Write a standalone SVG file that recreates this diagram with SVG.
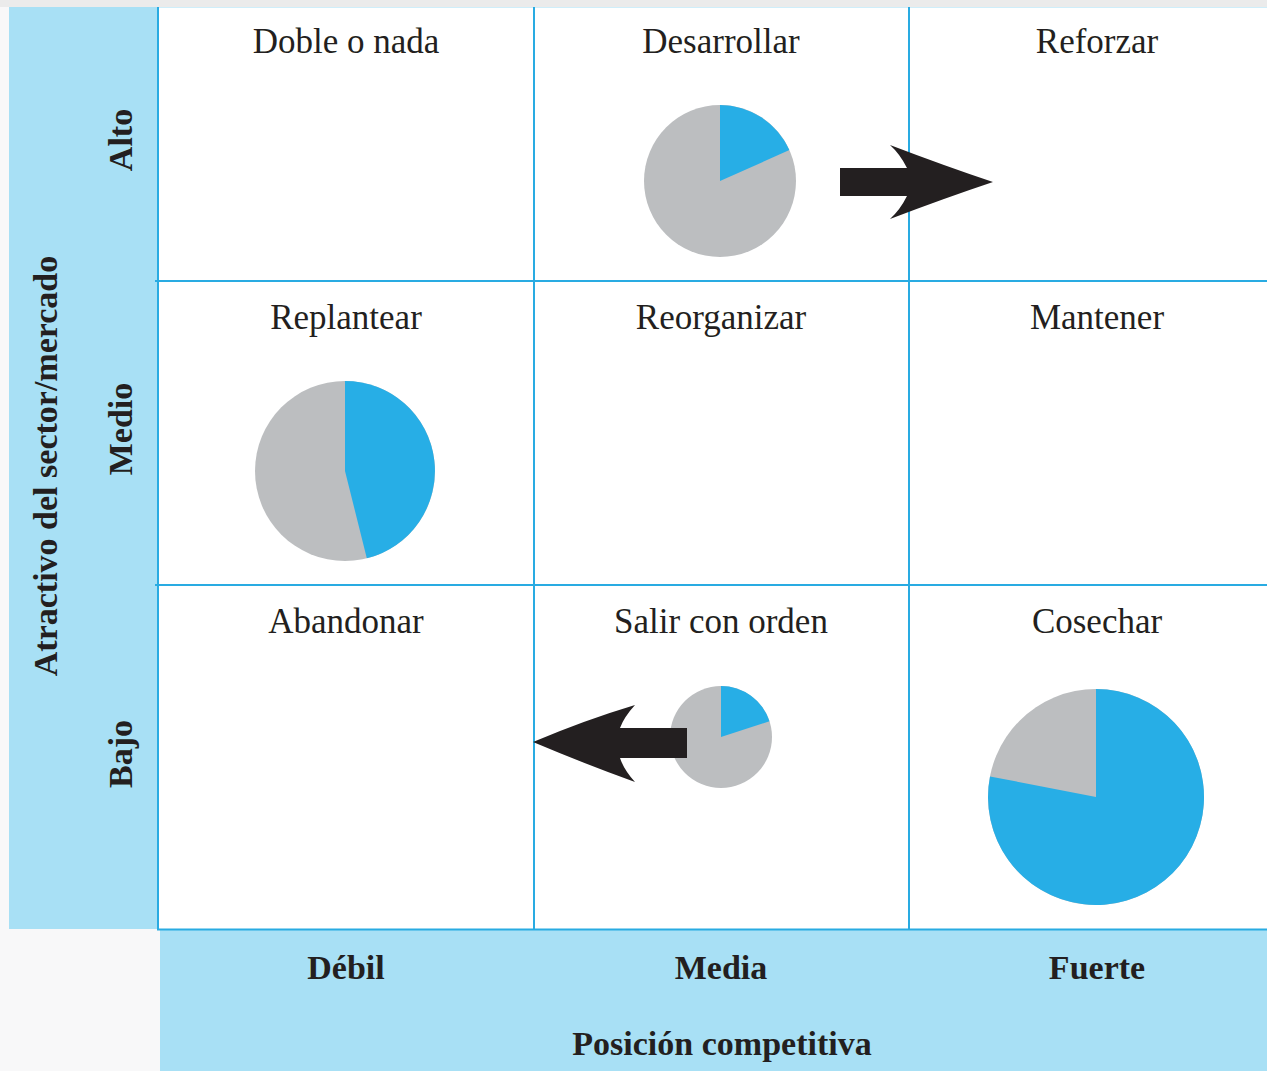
<svg xmlns="http://www.w3.org/2000/svg" width="1267" height="1071" viewBox="0 0 1267 1071">
<style>
.bg{fill:#ffffff}
.panel{fill:#a8e0f5}
.grid{stroke:#29abe2;stroke-width:2;fill:none}
.title{font-family:"Liberation Serif","Times New Roman",serif;font-size:35px;fill:#231f20;text-anchor:middle}
.axis{font-family:"Liberation Serif","Times New Roman",serif;font-size:34px;font-weight:bold;fill:#231f20;text-anchor:middle}
.pieg{fill:#bcbec0}
.pieb{fill:#27aee6}
.arrow{fill:#231f20}
</style>
<rect x="0" y="0" width="1267" height="1071" fill="#f8f8f9"/>
<rect x="0" y="0" width="1267" height="7" fill="#ebebeb"/>
<rect x="158" y="7" width="1109" height="922" class="bg"/>
<g id="y-axis">
<rect x="9" y="7" width="149" height="922" class="panel"/>
<text class="axis" font-size="35" transform="translate(57,466) rotate(-90)">Atractivo del sector/mercado</text>
<text class="axis" font-size="35" transform="translate(132,140) rotate(-90)">Alto</text>
<text class="axis" font-size="35" transform="translate(132,429) rotate(-90)">Medio</text>
<text class="axis" font-size="35" transform="translate(132,754) rotate(-90)">Bajo</text>
</g>
<g id="x-axis">
<rect x="160" y="930" width="1107" height="141" class="panel"/>
<text class="axis" x="346" y="979">Débil</text>
<text class="axis" x="721" y="979">Media</text>
<text class="axis" x="1097" y="979">Fuerte</text>
<text class="axis" x="722" y="1055">Posición competitiva</text>
</g>
<g id="grid">
<line x1="158" y1="7.5" x2="1267" y2="7.5" stroke="#cfeefa" stroke-width="1"/>
<line class="grid" x1="158" y1="7" x2="158" y2="930"/>
<line class="grid" x1="534" y1="7" x2="534" y2="930"/>
<line class="grid" x1="909" y1="7" x2="909" y2="930"/>
<line class="grid" x1="155" y1="281" x2="1267" y2="281"/>
<line class="grid" x1="155" y1="585" x2="1267" y2="585"/>
<line class="grid" x1="157" y1="929.5" x2="1267" y2="929.5" stroke-width="3"/>
</g>
<g id="cell-doble"><text class="title" x="346" y="53">Doble o nada</text></g>
<g id="cell-desarrollar">
<text class="title" x="721" y="53">Desarrollar</text>
<circle class="pieg" cx="720" cy="181" r="76"/>
<path class="pieb" d="M720,181 L720,105 A76,76 0 0 1 789.4,150.1 Z"/>
</g>
<g id="cell-reforzar"><text class="title" x="1097" y="53">Reforzar</text></g>
<g id="cell-replantear">
<text class="title" x="346" y="329">Replantear</text>
<circle class="pieg" cx="345" cy="471" r="90"/>
<path class="pieb" d="M345,471 L345,381 A90,90 0 0 1 366.8,558.3 Z"/>
</g>
<g id="cell-reorganizar"><text class="title" x="721" y="329">Reorganizar</text></g>
<g id="cell-mantener"><text class="title" x="1097" y="329">Mantener</text></g>
<g id="cell-abandonar"><text class="title" x="346" y="633">Abandonar</text></g>
<g id="cell-salir">
<text class="title" x="721" y="633">Salir con orden</text>
<circle class="pieg" cx="721" cy="737" r="51"/>
<path class="pieb" d="M721,737 L721,686 A51,51 0 0 1 769.5,721.2 Z"/>
</g>
<g id="cell-cosechar">
<text class="title" x="1097" y="633">Cosechar</text>
<circle class="pieg" cx="1096" cy="797" r="108"/>
<path class="pieb" d="M1096,797 L1096,689 A108,108 0 1 1 990,776.4 Z"/>
</g>
<g id="connectors">
<path class="arrow" d="M840,168 L907,168 Q900,154 890,145 Q945,166 993,182 Q945,198 890,219 Q900,210 907,196 L840,196 Z"/>
<path class="arrow" d="M533,742 Q585,720 635,705 Q624,717 620,728 L687,728 L687,758 L620,758 Q624,770 635,782 Q585,764 533,742 Z"/>
</g>
</svg>
